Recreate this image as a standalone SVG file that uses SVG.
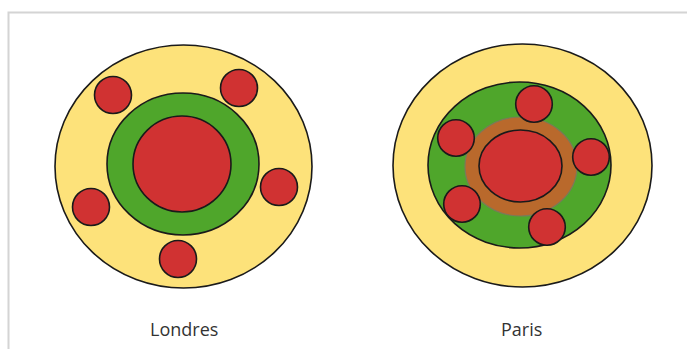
<svg xmlns="http://www.w3.org/2000/svg" width="687" height="349" viewBox="0 0 687 349">
<style>
.y{fill:#fde27a;stroke:#1a1a1a;stroke-width:1.6}
.g{fill:#4fa62b;stroke:#1a1a1a;stroke-width:1.6}
.r{fill:#d03232;stroke:#1a1a1a;stroke-width:1.6}
.b{fill:#b9692c;stroke:#7a7a5a;stroke-width:1.2}
.t{font-family:"Open Sans",sans-serif;font-size:18px;fill:#333}
</style>
<rect x="0" y="0" width="687" height="349" fill="#fff"/>
<path d="M8.5 349 V12.5 H687" fill="none" stroke="#d4d4d4" stroke-width="2"/>
<g id="londres">
<ellipse class="y" cx="183.5" cy="166.5" rx="128.5" ry="121.5"/>
<ellipse class="g" cx="183" cy="164" rx="76" ry="71"/>
<ellipse class="r" cx="182" cy="164" rx="49" ry="48"/>
<circle class="r" cx="113" cy="95" r="18.5"/>
<circle class="r" cx="239" cy="88" r="18.5"/>
<circle class="r" cx="279" cy="187" r="18.5"/>
<circle class="r" cx="91" cy="207" r="18.5"/>
<circle class="r" cx="178" cy="259" r="18.5"/>
<text class="t" x="150" y="336">Londres</text>
</g>
<g id="paris">
<ellipse class="y" cx="522.5" cy="165.5" rx="129.5" ry="121.5"/>
<ellipse class="g" cx="519.5" cy="165" rx="91.5" ry="83"/>
<ellipse class="b" cx="521" cy="166.5" rx="56" ry="49.5"/>
<ellipse class="r" cx="520.5" cy="166" rx="41.5" ry="36"/>
<circle class="r" cx="534" cy="104" r="18.3"/>
<circle class="r" cx="456" cy="138" r="18.3"/>
<circle class="r" cx="591" cy="157" r="18.3"/>
<circle class="r" cx="462" cy="204" r="18.3"/>
<circle class="r" cx="547" cy="227" r="18.3"/>
<text class="t" x="501" y="336">Paris</text>
</g>
<g id="connectors"/>
</svg>
